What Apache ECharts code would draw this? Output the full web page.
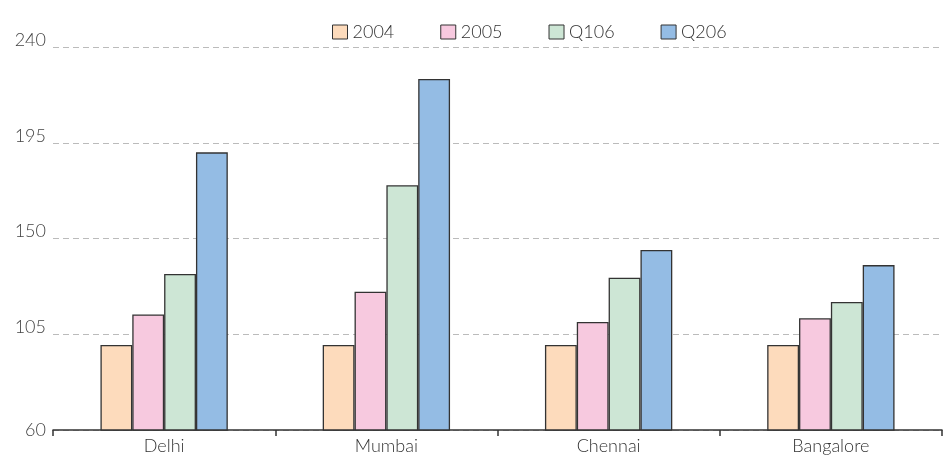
<!DOCTYPE html>
<html>
<head>
<meta charset="utf-8">
<script src="https://cdn.jsdelivr.net/npm/echarts@6/dist/echarts.min.js"></script>
<style>
  html, body { margin: 0; padding: 0; background: #fff; }
  #chart { width: 943px; height: 457px; }
</style>
</head>
<body>
<div id="chart"></div>
<script>
// Cities on the category axis
const cities = ['Delhi', 'Mumbai', 'Chennai', 'Bangalore'];
// Period names shown in the legend
const periods = ['2004', '2005', 'Q106', 'Q206'];
// Index values per period, one entry per city
const v2004 = [100, 100, 100, 100];
const v2005 = [114.3, 125, 110.8, 112.5];
const vQ106 = [133.3, 175, 131.6, 120.2];
const vQ206 = [190.5, 225, 144.6, 137.5];
// Value axis range and step
const yMin = 60, yMax = 240, yStep = 45;

const seriesValues = [v2004, v2005, vQ106, vQ206];
const fills = ['#FDDBBC', '#F7C9DF', '#CDE6D5', '#94BCE4'];
const fontFamily = 'Lato, "Open Sans", sans-serif';

const chart = echarts.init(document.getElementById('chart'));
chart.setOption({
  animation: false,
  backgroundColor: '#ffffff',
  textStyle: { fontFamily: fontFamily },
  legend: {
    data: periods,
    left: 327,
    top: 18,
    itemWidth: 15,
    itemHeight: 14,
    itemGap: 46,
    icon: 'rect',
    textStyle: { fontSize: 18, color: '#333', fontFamily: fontFamily, fontWeight: 300 },
    itemStyle: { borderColor: '#333', borderWidth: 1 }
  },
  grid: { left: 53, right: 1, top: 47, bottom: 27, containLabel: false },
  xAxis: {
    type: 'category',
    data: cities,
    boundaryGap: true,
    axisLine: { show: true, lineStyle: { color: '#333', width: 1.5 } },
    axisTick: { show: true, length: 6, alignWithLabel: false, lineStyle: { color: '#333', width: 1.5 } },
    axisLabel: { fontSize: 18, color: '#333', margin: 7, fontFamily: fontFamily, fontWeight: 300 }
  },
  yAxis: {
    type: 'value',
    min: yMin,
    max: yMax,
    interval: yStep,
    axisLine: { show: false },
    axisTick: { show: false },
    splitLine: { show: true, lineStyle: { color: '#bbbbbb', type: [6, 4], width: 1 } },
    axisLabel: {
      fontSize: 18,
      color: '#444',
      margin: 7,
      fontFamily: fontFamily,
      formatter: function (v) { return v === yMin ? '{b|' + v + '}' : '{a|' + v + '}'; },
      rich: {
        a: { fontSize: 18, color: '#444', fontFamily: fontFamily, fontWeight: 300, padding: [0, 0, 14, 0] },
        b: { fontSize: 18, color: '#444', fontFamily: fontFamily, fontWeight: 300 }
      }
    }
  },
  series: periods.map(function (name, i) {
    return {
      name: name,
      type: 'bar',
      data: seriesValues[i],
      barGap: '0%',
      barCategoryGap: '42.7%',
      itemStyle: { color: fills[i], borderColor: '#333', borderWidth: 1.3 }
    };
  })
});
</script>
</body>
</html>
